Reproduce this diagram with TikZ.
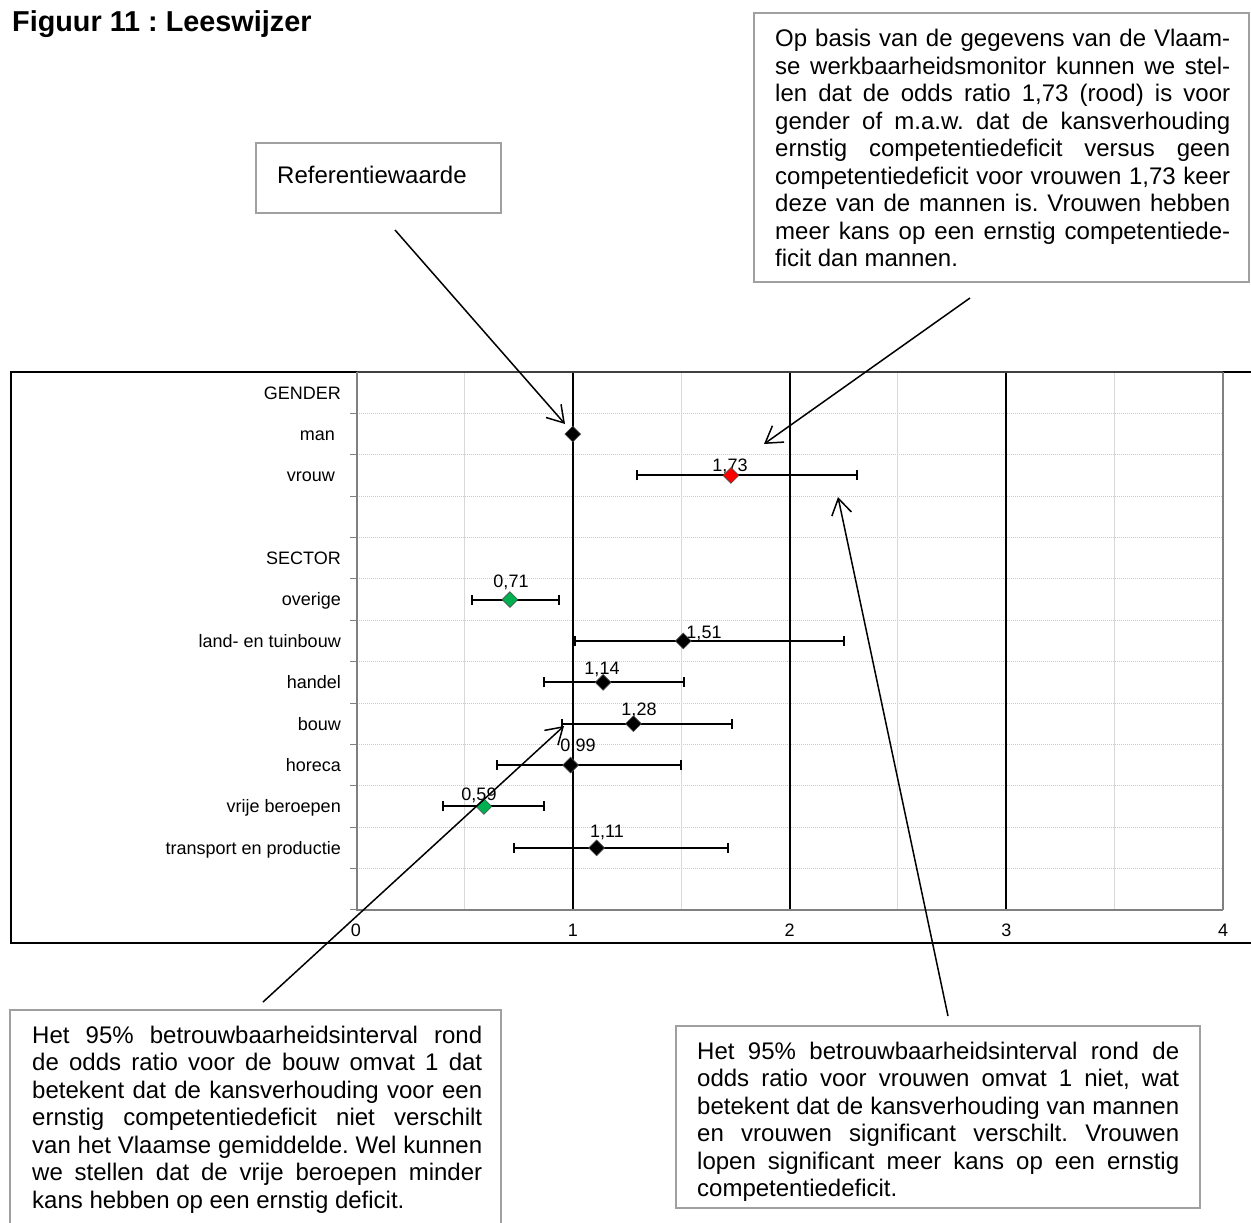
\documentclass[tikz,border=0pt]{standalone}
\usepackage{fontspec}
\setmainfont{Liberation Sans}
\usetikzlibrary{arrows.meta,shapes.geometric}
\frenchspacing

\definecolor{rowgridcol}{RGB}{212,203,168}
\definecolor{halfgridcol}{RGB}{217,217,217}
\definecolor{axiscol}{RGB}{128,128,128}
\definecolor{boxcol}{RGB}{160,160,160}
\definecolor{ratiored}{RGB}{255,0,0}
\definecolor{ratiogreen}{RGB}{0,176,80}

\tikzset{
	rowgrid/.style={rowgridcol, line width=1pt, densely dotted},
	halfgrid/.style={halfgridcol, line width=1pt},
	unitline/.style={black, line width=2pt},
	axisline/.style={axiscol, line width=2pt},
	cibar/.style={line width=2pt, {Bar[width=10pt]}-{Bar[width=10pt]}},
	ratiomark/.style={diamond, draw=black!70, line width=0.6pt, inner sep=0pt, minimum size=16pt},
	catlabel/.style={font=\fontsize{18}{20}\selectfont, anchor=base east, inner sep=0pt},
	numlabel/.style={font=\fontsize{18}{20}\selectfont, anchor=base, inner sep=0pt},
	notebox/.style={draw=boxcol, line width=2pt},
	notetext/.style={font=\fontsize{24}{27.5}\selectfont, align=justify, anchor=base west, inner sep=0pt},
	pointer/.style={line width=1.5pt, -{Straight Barb[length=16pt,width=20pt]}}
}

\begin{document}
\begin{tikzpicture}[x=1pt, y=-1pt]
	\useasboundingbox (0,0) rectangle (1251,1223);
	% title
	\node[anchor=base west, inner sep=0pt, font=\bfseries\fontsize{28.8}{30}\selectfont] (title) at (12,32) {Figuur 11 : Leeswijzer};

	% chart frame and grid
	\draw[line width=1.5pt] (11,372) rectangle (1262,943);
	\foreach \k in {1,...,12}
		\draw[rowgrid] (357,{372+41.38*\k}) -- (1223,{372+41.38*\k});
	\foreach \v in {0.5,1.5,2.5,3.5}
		\draw[halfgrid] ({356+216.75*\v},372) -- ({356+216.75*\v},910);
	\foreach \v in {1,2,3}
		\draw[unitline] ({356+216.75*\v},372) -- ({356+216.75*\v},910);
	\draw[axisline] (1223,372) -- (1223,910);
	\draw[black!75, line width=2pt] (357,372) -- (1223,372);
	\draw[axisline] (357,372) -- (357,910) -- (1223,910);
	\foreach \k in {1,...,13}
		\draw[axiscol, line width=1pt] (350,{372+41.38*\k}) -- (357,{372+41.38*\k});
	\foreach \v in {0,...,4}
		\node[numlabel] (tick\v) at ({356+216.75*\v},936) {\v};

	% categories
	\foreach \r/\name in {0/GENDER, 1/{man\hspace*{6pt}}, 2/{vrouw\hspace*{6pt}}, 4/SECTOR,
		5/overige, 6/land- en tuinbouw, 7/handel, 8/bouw, 9/horeca, 10/vrije beroepen,
		11/transport en productie}
		\node[catlabel] (cat\r) at (341,{372+41.38*(\r+0.5)+6.4}) {\name};

	% odds ratios
	\node[ratiomark, fill=black] (mark1) at ({356+216.75},{372+41.38*1.5}) {};
	\foreach \r/\v/\lo/\hi/\col/\txt/\lx/\ly in {
		2/1.73/1.292/2.316/ratiored/{1,73}/730/465,
		5/0.71/0.530/0.940/ratiogreen/{0,71}/511/581,
		6/1.51/1.006/2.256/black/{1,51}/704/632,
		7/1.14/0.863/1.518/black/{1,14}/602/668,
		8/1.28/0.946/1.739/black/{1,28}/639/709,
		9/0.99/0.646/1.504/black/{0,99}/578/745,
		10/0.59/0.397/0.872/ratiogreen/{0,59}/479/794,
		11/1.11/0.724/1.721/black/{1,11}/607/831}
	{
		\coordinate (lo\r) at ({356+216.75*\lo},{372+41.38*(\r+0.5)});
		\coordinate (hi\r) at ({356+216.75*\hi},{372+41.38*(\r+0.5)});
		\draw[cibar] (lo\r) -- (hi\r);
		\node[numlabel] (val\r) at (\lx,{\ly+6.5}) {\txt};
		\node[ratiomark, fill=\col] (mark\r) at ({356+216.75*\v},{372+41.38*(\r+0.5)}) {};
	}

	% notes
	\draw[notebox] (256,143) rectangle (501,213);
	\node[notetext] (reftext) at (277,183) {Referentiewaarde};
	\draw[notebox] (754,13) rectangle (1249,282);
	\node[notetext, text width=455pt] (ratiotext) at (775,47) {Op basis van de gegevens van de Vlaam-\linebreak
		se werkbaarheidsmonitor kunnen we stel-\linebreak
		len dat de odds ratio 1,73 (rood) is voor\linebreak
		gender of m.a.w. dat de kansverhouding\linebreak
		ernstig competentiedeficit versus geen\linebreak
		competentiedeficit voor vrouwen 1,73 keer\linebreak
		deze van de mannen is. Vrouwen hebben\linebreak
		meer kans op een ernstig competentiede-\linebreak
		ficit dan mannen.};
	\draw[notebox] (10,1010) rectangle (501,1240);
	\node[notetext, text width=450pt] (bouwtext) at (32,1043) {Het 95\% betrouwbaarheidsinterval rond\linebreak
		de odds ratio voor de bouw omvat 1 dat\linebreak
		betekent dat de kansverhouding voor een\linebreak
		ernstig competentiedeficit niet verschilt\linebreak
		van het Vlaamse gemiddelde. Wel kunnen\linebreak
		we stellen dat de vrije beroepen minder\linebreak
		kans hebben op een ernstig deficit.};
	\draw[notebox] (676,1026) rectangle (1200,1208);
	\node[notetext, text width=482pt] (vrouwtext) at (697,1059) {Het 95\% betrouwbaarheidsinterval rond de\linebreak
		odds ratio voor vrouwen omvat 1 niet, wat\linebreak
		betekent dat de kansverhouding van mannen\linebreak
		en vrouwen significant verschilt. Vrouwen\linebreak
		lopen significant meer kans op een ernstig\linebreak
		competentiedeficit.};

	% pointers
	\coordinate (reftail) at (395,230);
	\coordinate (reftip) at (565,424);
	\coordinate (ratiotail) at (970,298);
	\coordinate (ratiotip) at (764,444);
	\coordinate (bouwtail) at (263,1002);
	\coordinate (bouwtip) at (564,726);
	\coordinate (vrouwtail) at (948,1016);
	\coordinate (vrouwtip) at (838,497);
	\draw[pointer] (reftail) -- (reftip);
	\draw[pointer] (ratiotail) -- (ratiotip);
	\draw[pointer] (bouwtail) -- (bouwtip);
	\draw[pointer] (vrouwtail) -- (vrouwtip);
\end{tikzpicture}
\end{document}
